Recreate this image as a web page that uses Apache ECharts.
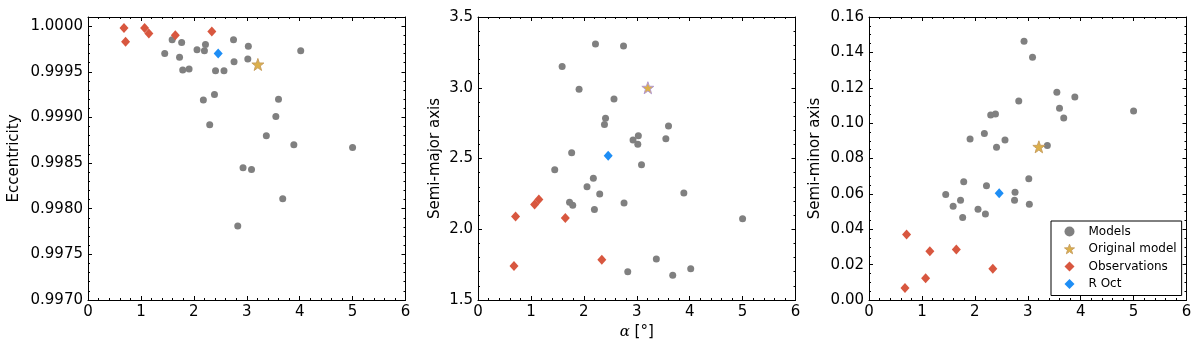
<!DOCTYPE html>
<html>
<head>
<meta charset="utf-8">
<script src="https://cdn.jsdelivr.net/npm/echarts@6/dist/echarts.min.js"></script>
<style>
html,body{margin:0;padding:0;background:#fff;}
#chart{width:1200px;height:349px;}
</style>
</head>
<body>
<div id="chart"></div>
<script>
// ---- Data ----
const alphaModels = [1.45, 1.59, 1.73, 1.77, 1.79, 1.91, 2.06, 2.18, 2.20, 2.22, 2.30, 2.41, 2.39, 2.57, 2.75, 2.76, 2.83, 2.93, 3.03, 3.02, 3.09, 3.37, 3.55, 3.60, 3.68, 3.89, 4.02, 5.00];
const eccModels = [0.99970, 0.99985, 0.99966, 0.99982, 0.99952, 0.99953, 0.99974, 0.99919, 0.99973, 0.99980, 0.99892, 0.99951, 0.99925, 0.99951, 0.99985, 0.99961, 0.99781, 0.99845, 0.99978, 0.99964, 0.99843, 0.99880, 0.99901, 0.99920, 0.99811, 0.99870, 0.99973, 0.99867];
const aModels = [2.42, 3.15, 2.19, 2.54, 2.17, 2.99, 2.30, 2.36, 2.14, 3.31, 2.25, 2.785, 2.74, 2.92, 3.295, 2.186, 1.70, 2.63, 2.66, 2.60, 2.455, 1.79, 2.64, 2.73, 1.675, 2.257, 1.72, 2.075];
const bModels = [0.0596, 0.0530, 0.0564, 0.0467, 0.0669, 0.0910, 0.0513, 0.0942, 0.0486, 0.0646, 0.1046, 0.0863, 0.1052, 0.0905, 0.0564, 0.0609, 0.1125, 0.1463, 0.0541, 0.0686, 0.1372, 0.0873, 0.1174, 0.1084, 0.1029, 0.1148, 0.0400, 0.1069];

const alphaObs = [0.68, 0.71, 1.07, 1.15, 1.65, 2.34];
const eccObs = [0.99998, 0.99983, 0.99998, 0.99992, 0.99990, 0.99994];
const aObs = [1.74, 2.09, 2.175, 2.21, 2.08, 1.785];
const bObs = [0.0068, 0.0371, 0.0123, 0.0275, 0.0285, 0.0177];

const alphaOrig = [3.21];
const eccOrig = [0.99958];
const aOrig = [3.00];
const bOrig = [0.0866];

const alphaROct = [2.46];
const eccROct = [0.99970];
const aROct = [2.52];
const bROct = [0.0604];

const xTicks = [0, 1, 2, 3, 4, 5, 6];
const yLabels = ['Eccentricity', 'Semi-major axis', 'Semi-minor axis'];
const seriesNames = ['Models', 'Original model', 'Observations', 'R Oct'];

// ---- Styling ----
const FONT = 'DejaVu Sans';
const STAR = 'path://M0,-10 L2.35,-3.24 L9.51,-3.09 L3.80,1.24 L5.88,8.09 L0,4 L-5.88,8.09 L-3.80,1.24 L-9.51,-3.09 L-2.35,-3.24 Z';
const GRAY = '#808080', RED = '#d8573f', BLUE = '#1e8ef5', GOLD = '#dcb04a';

const panels = [
  {left: 88, yMin: 0.9970, yMax: 1.0001, yInt: 0.0005, yMinor: 5, dec: 4, nameGap: 66,
   ys: [eccModels, eccOrig, eccObs, eccROct], starBorder: '#c9a060'},
  {left: 478, yMin: 1.5, yMax: 3.5, yInt: 0.5, yMinor: 5, dec: 1, nameGap: 35,
   ys: [aModels, aOrig, aObs, aROct], starBorder: '#b39ad0'},
  {left: 869, yMin: 0.00, yMax: 0.16, yInt: 0.02, yMinor: 4, dec: 2, nameGap: 46,
   ys: [bModels, bOrig, bObs, bROct], starBorder: '#c9a060'}
];
const PW = 317.5, PT = 17, PH = 283;

function zip(xs, ys) { return xs.map((x, i) => [x, ys[i]]); }

const grids = [], xAxes = [], yAxes = [], series = [];
panels.forEach((p, i) => {
  grids.push({left: p.left, top: PT, width: PW, height: PH});
  const baseX = {
    type: 'value', gridIndex: i, min: 0, max: 6, interval: 1,
    axisLine: {onZero: false, lineStyle: {color: '#000', width: 1}},
    axisTick: {inside: true, length: 4, lineStyle: {color: '#000', width: 1}},
    minorTick: {show: true, splitNumber: 5, length: 2, lineStyle: {color: '#000', width: 1}},
    splitLine: {show: false}
  };
  xAxes.push(Object.assign({}, baseX, {
    position: 'bottom',
    axisLabel: {color: '#000', fontSize: 15, fontFamily: FONT, margin: 5},
    name: i === 1 ? '{a|α} [°]' : '',
    nameLocation: 'middle', nameGap: 21,
    nameTextStyle: {color: '#000', fontSize: 15, fontFamily: FONT,
      rich: {a: {fontStyle: 'italic', fontFamily: 'DejaVu Serif', fontSize: 15, color: '#000'}}}
  }));
  xAxes.push(Object.assign({}, baseX, {position: 'top', axisLabel: {show: false}}));
  const baseY = {
    type: 'value', gridIndex: i, min: p.yMin, max: p.yMax, interval: p.yInt,
    axisLine: {onZero: false, lineStyle: {color: '#000', width: 1}},
    axisTick: {inside: true, length: 4, lineStyle: {color: '#000', width: 1}},
    minorTick: {show: true, splitNumber: p.yMinor, length: 2, lineStyle: {color: '#000', width: 1}},
    splitLine: {show: false}
  };
  yAxes.push(Object.assign({}, baseY, {
    position: 'left',
    axisLabel: {color: '#000', fontSize: 15, fontFamily: FONT, margin: 5,
      showMaxLabel: i !== 0, formatter: v => Number(v).toFixed(p.dec)},
    name: yLabels[i], nameLocation: 'middle', nameGap: p.nameGap, nameRotate: 90,
    nameTextStyle: {color: '#000', fontSize: 15, fontFamily: FONT}
  }));
  yAxes.push(Object.assign({}, baseY, {position: 'right', axisLabel: {show: false}}));

  const xi = 2 * i, yi = 2 * i;
  series.push({name: seriesNames[0], type: 'scatter', xAxisIndex: xi, yAxisIndex: yi,
    symbol: 'circle', symbolSize: 7, itemStyle: {color: GRAY, opacity: 1},
    data: zip(alphaModels, p.ys[0]), z: 2});
  series.push({name: seriesNames[1], type: 'scatter', xAxisIndex: xi, yAxisIndex: yi,
    symbol: STAR, symbolSize: 12, itemStyle: {color: GOLD, borderColor: p.starBorder, borderWidth: 1, opacity: 1},
    data: zip(alphaOrig, p.ys[1]), z: 3});
  series.push({name: seriesNames[2], type: 'scatter', xAxisIndex: xi, yAxisIndex: yi,
    symbol: 'diamond', symbolSize: [9, 10], itemStyle: {color: RED, opacity: 1},
    data: zip(alphaObs, p.ys[2]), z: 3});
  series.push({name: seriesNames[3], type: 'scatter', xAxisIndex: xi, yAxisIndex: yi,
    symbol: 'diamond', symbolSize: [9, 10], itemStyle: {color: BLUE, opacity: 1},
    data: zip(alphaROct, p.ys[3]), z: 3});
});

const chart = echarts.init(document.getElementById('chart'), null, {renderer: 'canvas'});
chart.setOption({
  animation: false,
  backgroundColor: '#fff',
  grid: grids,
  xAxis: xAxes,
  yAxis: yAxes,
  legend: {
    show: true, selectedMode: false, orient: 'vertical',
    left: 1051, top: 221, width: 129,
    padding: [4, 5, 5, 13],
    backgroundColor: '#fff', borderColor: '#000', borderWidth: 1, borderRadius: 0,
    itemWidth: 10, itemHeight: 10, itemGap: 4.5,
    textStyle: {color: '#000', fontSize: 12, fontFamily: FONT, lineHeight: 13, padding: [0, 0, 0, 9]},
    data: [
      {name: seriesNames[0], icon: 'circle', itemStyle: {color: GRAY}},
      {name: seriesNames[1], icon: STAR, itemStyle: {color: GOLD, borderColor: '#c9a060', borderWidth: 1}},
      {name: seriesNames[2], icon: 'diamond', itemStyle: {color: RED}},
      {name: seriesNames[3], icon: 'diamond', itemStyle: {color: BLUE}}
    ],
    z: 10
  },
  series: series
});
</script>
</body>
</html>
